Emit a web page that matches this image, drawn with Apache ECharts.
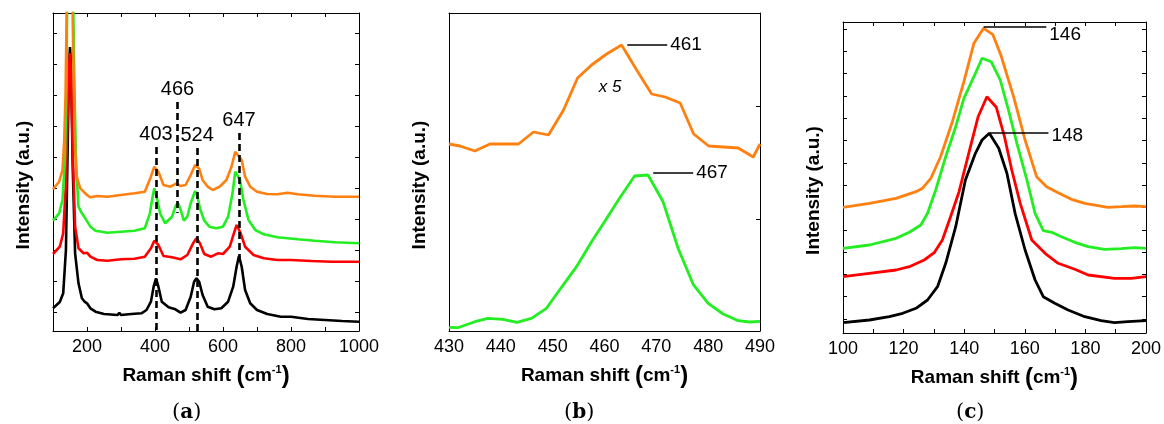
<!DOCTYPE html>
<html>
<head>
<meta charset="UTF-8">
<title>Raman spectra</title>
<style>
html,body{margin:0;padding:0;background:#fff;}
#main{width:1164px;height:424px;}
</style>
</head>
<body>
<div id="main"></div>
<script src="https://cdn.jsdelivr.net/npm/echarts@6/dist/echarts.min.js"></script>
<script>
// (a) full spectra, [Raman shift, intensity a.u.]
var aBlack = [[100,22.7],[120,29],[130,37.7],[138,81],[143,181],[147,264],[150,284],[153,264],[158,164],[165,77.7],[175,47.7],[185,32.7],[193,29.3],[200,27.7],[210,22.7],[225,19.3],[250,17],[290,16],[295,18.3],[300,16],[330,17],[360,17.7],[375,21],[388,29.3],[396,44.3],[403,52.7],[410,44.3],[420,29.3],[440,23.7],[460,21.7],[475,18.3],[490,21],[505,34.3],[515,49.3],[522,52.7],[530,49.3],[540,36],[555,24.3],[575,21.7],[595,22.7],[615,29.3],[630,44.3],[640,64.3],[647,75],[655,64.3],[665,41],[680,27.7],[700,21],[730,17],[770,14.3],[800,14.3],[850,12],[900,11],[950,10],[1000,9.3]];
var aRed = [[100,77],[120,84.3],[130,97.7],[138,147.7],[143,214.3],[148,270],[150,277.7],[153,257.7],[158,181],[165,104.3],[175,82.7],[190,77.7],[200,78.3],[210,74.3],[230,71],[260,70.3],[300,71.7],[340,72.3],[370,74.3],[388,82.7],[398,90.3],[403,91.7],[410,86],[425,75],[450,73.7],[475,71.7],[495,76],[512,87.7],[522,92.7],[532,87.7],[545,77],[565,74.3],[585,77.7],[600,77],[620,84.3],[632,97.7],[640,106],[652,97.7],[665,84.3],[690,76],[720,72.7],[760,71],[800,71],[860,70],[920,69.3],[1000,69.3]];
var aGreen = [[100,110.3],[118,117.7],[128,131],[135,171],[140,247.7],[144,450],[150,650],[156,450],[160,314],[163,247.7],[168,164.3],[175,124.3],[185,117.7],[195,112.7],[200,113.7],[210,104.3],[225,100.3],[260,98.3],[300,99.3],[340,100.3],[370,102.7],[385,117.7],[393,134.3],[398,142.7],[405,134.3],[415,117.7],[430,107.7],[450,114.3],[462,126],[468,127.7],[474,122.7],[485,110.3],[495,114.3],[505,127.7],[518,140],[524,136],[532,122.7],[545,110.3],[560,104.3],[580,102.7],[600,104.3],[615,114.3],[628,137.7],[636,159.3],[641,161],[650,151],[660,131],[675,111],[695,101],[720,96.7],[760,93.7],[790,92.7],[820,91.7],[870,90.3],[930,88.7],[1000,87.7]];
var aOrange = [[100,141.7],[118,149.3],[128,161],[133,191],[137,237.7],[140,314],[143,400],[150,600],[155,400],[158,311],[161,247.7],[165,181],[170,154.3],[180,142.7],[190,139.3],[200,136],[210,133.7],[230,135],[260,134.3],[300,136],[340,137.7],[370,139.3],[388,154.3],[398,164.3],[403,165],[410,159.3],[425,146],[445,144.3],[464,147.7],[475,145],[490,146],[505,156],[518,166],[523,166.7],[530,162.3],[540,151],[555,144.3],[570,141],[590,144.3],[610,151],[625,164.3],[636,179.3],[641,181],[655,171],[665,154.3],[680,144.3],[700,139.3],[730,137],[760,136.7],[790,138.3],[820,136.7],[870,135.3],[930,134.3],[1000,134.3]];
// dashed peak markers in (a): [label, shift, top, bottom]
var aPeaks = [['403',403,184,0],['466',466,229,118],['524',524,183,0],['647',647,198,70]];
var aTicksY = [19,50,81,112,143,174,205,236,267,298];

// (b) 430-490 region
var bOrange = [[430.0,187],[432.1,185],[435.0,180],[437.9,187],[440.8,187],[443.4,187],[446.3,199],[449.2,196],[452.1,221],[454.8,253],[457.5,266],[460.4,277],[463.3,286],[466.2,261],[469.1,237],[471.7,234],[474.6,228],[477.2,197],[480.1,185],[483.0,184],[485.8,183],[488.7,174],[490,187]];
var bGreen = [[430,3.7],[431.7,3.3],[435,9.3],[437.5,12.7],[440.4,11.7],[443.1,8.7],[445.9,12.7],[448.8,22.7],[451.7,43.7],[454.6,64.3],[457.5,89.3],[460,109.3],[462.9,132.7],[465.8,155],[468.4,156],[471.3,129.3],[474.2,82.7],[477.1,46.7],[480,27.7],[482.9,17],[485.8,10.3],[488,9],[490,9.7]];
var bTicksY = [0,112,225];

// (c) 100-200 region
var cOrange = [[100,125.7],[108.7,129.7],[117.5,134.7],[124.1,141.3],[126.2,144.7],[129,154.7],[132.2,176.3],[136.1,211.3],[139.9,251.3],[143.2,289.7],[146.4,304.7],[149.4,298.7],[152.1,278],[156.3,236.3],[160.1,193],[163.9,156.3],[167.2,146.3],[171,140.3],[175.4,133.7],[179.8,129.7],[187.4,125.7],[191.8,126.3],[196.2,127],[200,126.3]];
var cGreen = [[100,84.7],[108.7,88],[117.5,94.7],[121.9,100.7],[125.7,108],[127.9,119.7],[130.6,143],[133.9,176.3],[137.2,206.3],[139.9,234.7],[143.2,256.3],[145.9,274.7],[148.9,271.3],[151.9,253],[154.6,223],[157.4,189.7],[160.7,153],[163.4,119.7],[166.1,102.3],[168.9,100.7],[172.1,96.3],[176.5,90.7],[180.9,86.3],[186.3,83.7],[191.8,84.3],[196.2,85.3],[200,84.7]];
var cRed = [[100,56.3],[108.7,59.7],[117.5,63],[121.9,66.3],[126.8,73],[130.1,80.3],[132.8,93],[135.5,116.3],[138.3,141.3],[141.5,179.7],[144.6,216.3],[147.5,236.3],[150.6,225.7],[153.3,196.3],[155.7,163],[158.5,129.7],[162.3,93],[166.7,79.7],[171,69.7],[176.5,63.7],[180.9,58],[189.6,54.7],[195.1,54.7],[200,56.3]];
var cBlack = [[100,10.3],[108.7,13],[115.3,16.3],[119.7,19.7],[124.1,24.7],[127.9,33],[131.2,46.3],[133.9,69.7],[137.2,106.3],[140.4,153],[143.7,179.7],[145.9,193],[148.3,199.7],[151.4,184.7],[154.1,159.7],[156.8,119.7],[160.1,83],[163.4,53],[166.1,36.3],[169.9,29.7],[174.3,23],[179.8,16.3],[185.2,12.3],[189.6,10.3],[194,11.3],[200,12.3]];
var cTicksY = [14,36.3,58.7,80.7,103,125.3,147.3,169.7,192.3,214.7,237,259.7,281.3,303.7];

var FONT = "'Liberation Sans', Arial, sans-serif";
var ORANGE = '#ff8010', GREEN = '#22ee22', RED = '#ff0000', BLACK = '#000000';

var myChart = echarts.init(document.getElementById('main'), null, {renderer:'canvas'});

var xName = {
	rich: {
		t: {fontFamily: FONT, fontWeight: 'bold', fontSize: 19, color: '#000'},
		p: {fontFamily: FONT, fontWeight: 'bold', fontSize: 24, color: '#000'},
		s: {fontFamily: FONT, fontWeight: 'bold', fontSize: 11, color: '#000', verticalAlign: 'top', padding: [0, 0, 8, 0]}
	}
};
var xNameText = '{t|Raman shift }{p|(}{t|cm}{s|-1}{p|)}';

function bottomAxis(grid, min, max, interval, labelStep){
	return {
		gridIndex: grid, type: 'value', min: min, max: max, interval: interval,
		name: xNameText, nameLocation: 'middle', nameGap: 33, nameTextStyle: xName,
		axisLine: {show: true, onZero: false, lineStyle: {color: '#000', width: 1}},
		axisTick: {show: labelStep !== interval, inside: true, length: 4, lineStyle: {color: '#000'}},
		axisLabel: {
			fontFamily: FONT, fontSize: 18, color: '#000', margin: 7,
			formatter: function(v){ return v % labelStep === 0 ? v : ''; }
		},
		splitLine: {show: false}
	};
}
function topAxis(grid, min, max, interval, ticks){
	return {
		gridIndex: grid, type: 'value', position: 'top', min: min, max: max, interval: interval,
		axisLine: {show: true, onZero: false, lineStyle: {color: '#000', width: 1}},
		axisTick: {show: ticks, inside: true, length: 4, lineStyle: {color: '#000'}},
		axisLabel: {show: false}, splitLine: {show: false}
	};
}
function sideAxis(grid, max, ticks, pos, named, showTicks){
	var ax = {
		gridIndex: grid, type: 'value', position: pos, min: 0, max: max,
		axisLine: {show: true, onZero: false, lineStyle: {color: '#000', width: 1}},
		axisTick: {show: showTicks, inside: true, length: 4, customValues: ticks, lineStyle: {color: '#000'}},
		axisLabel: {show: false}, splitLine: {show: false}
	};
	if(named){
		ax.name = 'Intensity (a.u.)';
		ax.nameLocation = 'middle';
		ax.nameGap = 20;
		ax.nameTextStyle = {fontFamily: FONT, fontWeight: 'bold', fontSize: 19, color: '#000', padding: [0, 26, 0, 0]};
	}
	return ax;
}
function line(name, data, color, xi, yi, width){
	return {
		name: name, type: 'line', data: data, xAxisIndex: xi, yAxisIndex: yi,
		showSymbol: false, symbol: 'none', clip: true, z: 3,
		lineStyle: {color: color, width: width}, itemStyle: {color: color}
	};
}
function hLabel(text, x0, x1, y, dy){
	return [
		{coord: [x0, y], label: {show: true, position: 'end', formatter: text, offset: [0, dy]}},
		{coord: [x1, y]}
	];
}

// dashed peak markers
var peakLines = aPeaks.map(function(p){
	return [
		{name: p[0], coord: [p[1], p[2]]},
		{coord: [p[1], p[3]]}
	];
});

var series = [
	line('black', aBlack, BLACK, 0, 0, 2.6),
	line('red', aRed, RED, 0, 0, 2.6),
	line('green', aGreen, GREEN, 0, 0, 2.6),
	line('orange', aOrange, ORANGE, 0, 0, 2.6),
	line('green b', bGreen, GREEN, 2, 2, 2.8),
	line('orange b', bOrange, ORANGE, 2, 2, 2.8),
	line('black c', cBlack, BLACK, 4, 4, 2.8),
	line('red c', cRed, RED, 4, 4, 2.8),
	line('green c', cGreen, GREEN, 4, 4, 2.8),
	line('orange c', cOrange, ORANGE, 4, 4, 2.8)
];

series[3].markLine = {
	silent: true, symbol: ['none', 'none'], animation: false,
	lineStyle: {color: '#000', width: 2.6, type: [7, 4]},
	label: {show: true, position: 'start', formatter: '{b}', fontFamily: FONT, fontSize: 20, color: '#000', distance: 3},
	data: peakLines
};
series[5].markLine = {
	silent: true, symbol: ['none', 'none'], animation: false,
	lineStyle: {color: '#000', width: 1.5, type: 'solid'},
	label: {fontFamily: FONT, fontSize: 19, color: '#000', distance: 3},
	data: [hLabel('461', 464.4, 472.1, 286, 0), hLabel('467', 469.4, 477.1, 158, 0)]
};
series[5].markPoint = {
	silent: true, symbol: 'circle', symbolSize: 0, animation: false,
	label: {show: true, position: 'inside', formatter: 'x 5', fontFamily: FONT, fontStyle: 'italic', fontSize: 17, color: '#000'},
	data: [{coord: [461.1, 244]}]
};
series[9].markLine = {
	silent: true, symbol: ['none', 'none'], animation: false,
	lineStyle: {color: '#000', width: 1.5, type: 'solid'},
	label: {fontFamily: FONT, fontSize: 19, color: '#000', distance: 3},
	data: [hLabel('146', 146.4, 167.1, 306.3, 8), hLabel('148', 148.3, 167.8, 200.3, 3)]
};

function panelLabel(letter, cx){
	return {
		type: 'text', left: cx - 16, top: 402,
		style: {
			text: '{p|(}{b|' + letter + '}{p|)}',
			rich: {
				p: {fontFamily: "'DejaVu Serif', 'Liberation Serif', serif", fontSize: 21, color: '#000'},
				b: {fontFamily: "'DejaVu Serif', 'Liberation Serif', serif", fontSize: 20, fontWeight: 'bold', color: '#000'}
			}
		}
	};
}

myChart.setOption({
	animation: false,
	backgroundColor: '#fff',
	grid: [
		{left: 53, top: 13, width: 306, height: 318},
		{left: 449, top: 13, width: 311, height: 318},
		{left: 843, top: 22, width: 305, height: 311}
	],
	xAxis: [
		bottomAxis(0, 100, 1000, 100, 200),
		topAxis(0, 100, 1000, 100, true),
		bottomAxis(1, 430, 490, 10, 10),
		topAxis(1, 430, 490, 10, false),
		bottomAxis(2, 100, 200, 10, 20),
		topAxis(2, 100, 200, 10, true)
	],
	yAxis: [
		sideAxis(0, 318, aTicksY, 'left', true, true),
		sideAxis(0, 318, aTicksY, 'right', false, true),
		sideAxis(1, 318, bTicksY, 'left', true, false),
		sideAxis(1, 318, bTicksY, 'right', false, true),
		sideAxis(2, 311, cTicksY, 'left', true, true),
		sideAxis(2, 311, cTicksY, 'right', false, true)
	],
	series: series,
	graphic: [panelLabel('a', 188), panelLabel('b', 580), panelLabel('c', 972)]
});
</script>
</body>
</html>
